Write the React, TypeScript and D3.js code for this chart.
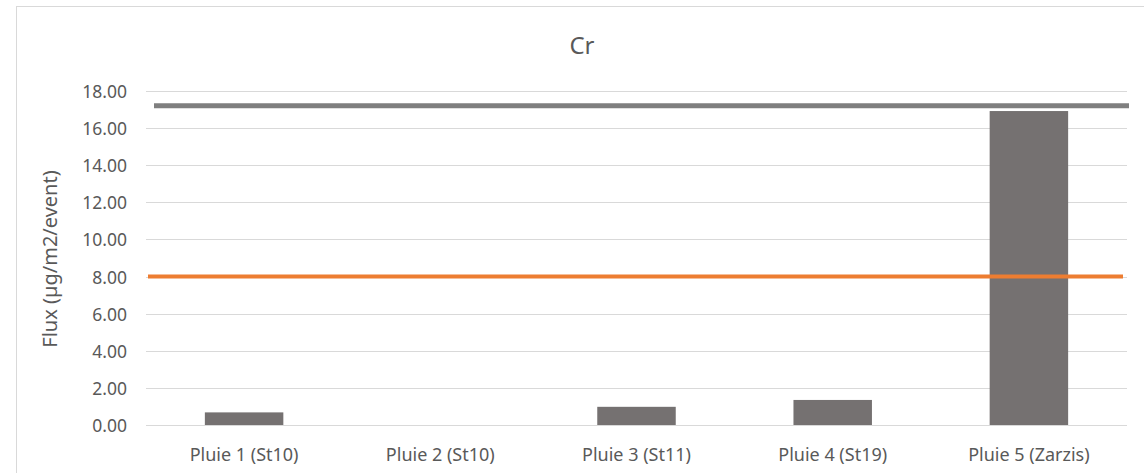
import * as d3 from 'd3';
import { useEffect, useRef } from 'react';

const CATEGORIES = ['Pluie 1 (St10)', 'Pluie 2 (St10)', 'Pluie 3 (St11)', 'Pluie 4 (St19)', 'Pluie 5 (Zarzis)'];
const FLUX = [0.68, 0, 0.98, 1.35, 16.92];
const Y_TICKS = [0, 2, 4, 6, 8, 10, 12, 14, 16, 18];
const THRESHOLD_GRAY = 17.2;
const THRESHOLD_ORANGE = 8.0;

const W = 1144;
const H = 473;
const PLOT = { left: 146, right: 1127, top: 91, bottom: 425 };
const FONT = '"Noto Sans", "Open Sans", sans-serif';
const TEXT_COLOR = '#595959';

export default function App() {
  const svgRef = useRef<SVGSVGElement>(null);

  useEffect(() => {
    if (!svgRef.current) return;
    const svg = d3.select(svgRef.current);
    svg.selectAll('*').remove();

    const x = d3.scaleBand<string>()
      .domain(CATEGORIES)
      .range([PLOT.left, PLOT.right])
      .paddingInner(0.6)
      .paddingOuter(0.3);
    const y = d3.scaleLinear().domain([0, 18]).range([PLOT.bottom, PLOT.top]);

    svg.append('rect')
      .attr('width', W).attr('height', H).attr('fill', '#fff');

    // chart frame
    svg.append('rect')
      .attr('x', 16.5).attr('y', 6.5)
      .attr('width', W + 10).attr('height', H + 10)
      .attr('fill', 'none').attr('stroke', '#d9d9d9');

    // title
    svg.append('text')
      .attr('x', 582).attr('y', 54)
      .attr('text-anchor', 'middle')
      .attr('font-family', FONT).attr('font-size', 24)
      .attr('fill', TEXT_COLOR)
      .text('Cr');

    // gridlines + tick labels
    Y_TICKS.forEach(t => {
      svg.append('line')
        .attr('x1', PLOT.left).attr('x2', PLOT.right)
        .attr('y1', Math.round(y(t)) + 0.5).attr('y2', Math.round(y(t)) + 0.5)
        .attr('stroke', '#d9d9d9').attr('stroke-width', 1);
      svg.append('text')
        .attr('x', 127).attr('y', y(t) + 7)
        .attr('text-anchor', 'end')
        .attr('font-family', FONT).attr('font-size', 17.5)
        .attr('fill', TEXT_COLOR)
        .text(d3.format('.2f')(t));
    });

    // bars
    svg.selectAll('rect.bar')
      .data(FLUX)
      .join('rect')
      .attr('class', 'bar')
      .attr('x', (_, i) => x(CATEGORIES[i])!)
      .attr('y', d => y(d))
      .attr('width', x.bandwidth())
      .attr('height', d => y(0) - y(d))
      .attr('fill', '#757171');

    // threshold lines
    svg.append('line')
      .attr('x1', PLOT.left + 8).attr('x2', PLOT.right + 2)
      .attr('y1', y(THRESHOLD_GRAY)).attr('y2', y(THRESHOLD_GRAY))
      .attr('stroke', '#7f7f7f').attr('stroke-width', 5);
    svg.append('line')
      .attr('x1', PLOT.left + 2).attr('x2', PLOT.right - 4)
      .attr('y1', y(THRESHOLD_ORANGE)).attr('y2', y(THRESHOLD_ORANGE))
      .attr('stroke', '#ed7d31').attr('stroke-width', 4);

    // x labels
    CATEGORIES.forEach(c => {
      svg.append('text')
        .attr('x', x(c)! + x.bandwidth() / 2).attr('y', 461)
        .attr('text-anchor', 'middle')
        .attr('font-family', FONT).attr('font-size', 18)
        .attr('fill', TEXT_COLOR)
        .text(c);
    });

    // y axis title
    svg.append('text')
      .attr('transform', `translate(57, 259) rotate(-90)`)
      .attr('text-anchor', 'middle')
      .attr('font-family', FONT).attr('font-size', 20)
      .attr('fill', TEXT_COLOR)
      .text('Flux (µg/m2/event)');
  }, []);

  return (
    <svg
      ref={svgRef}
      width={W}
      height={H}
      style={{ position: 'absolute', left: 0, top: 0, display: 'block' }}
    />
  );
}
